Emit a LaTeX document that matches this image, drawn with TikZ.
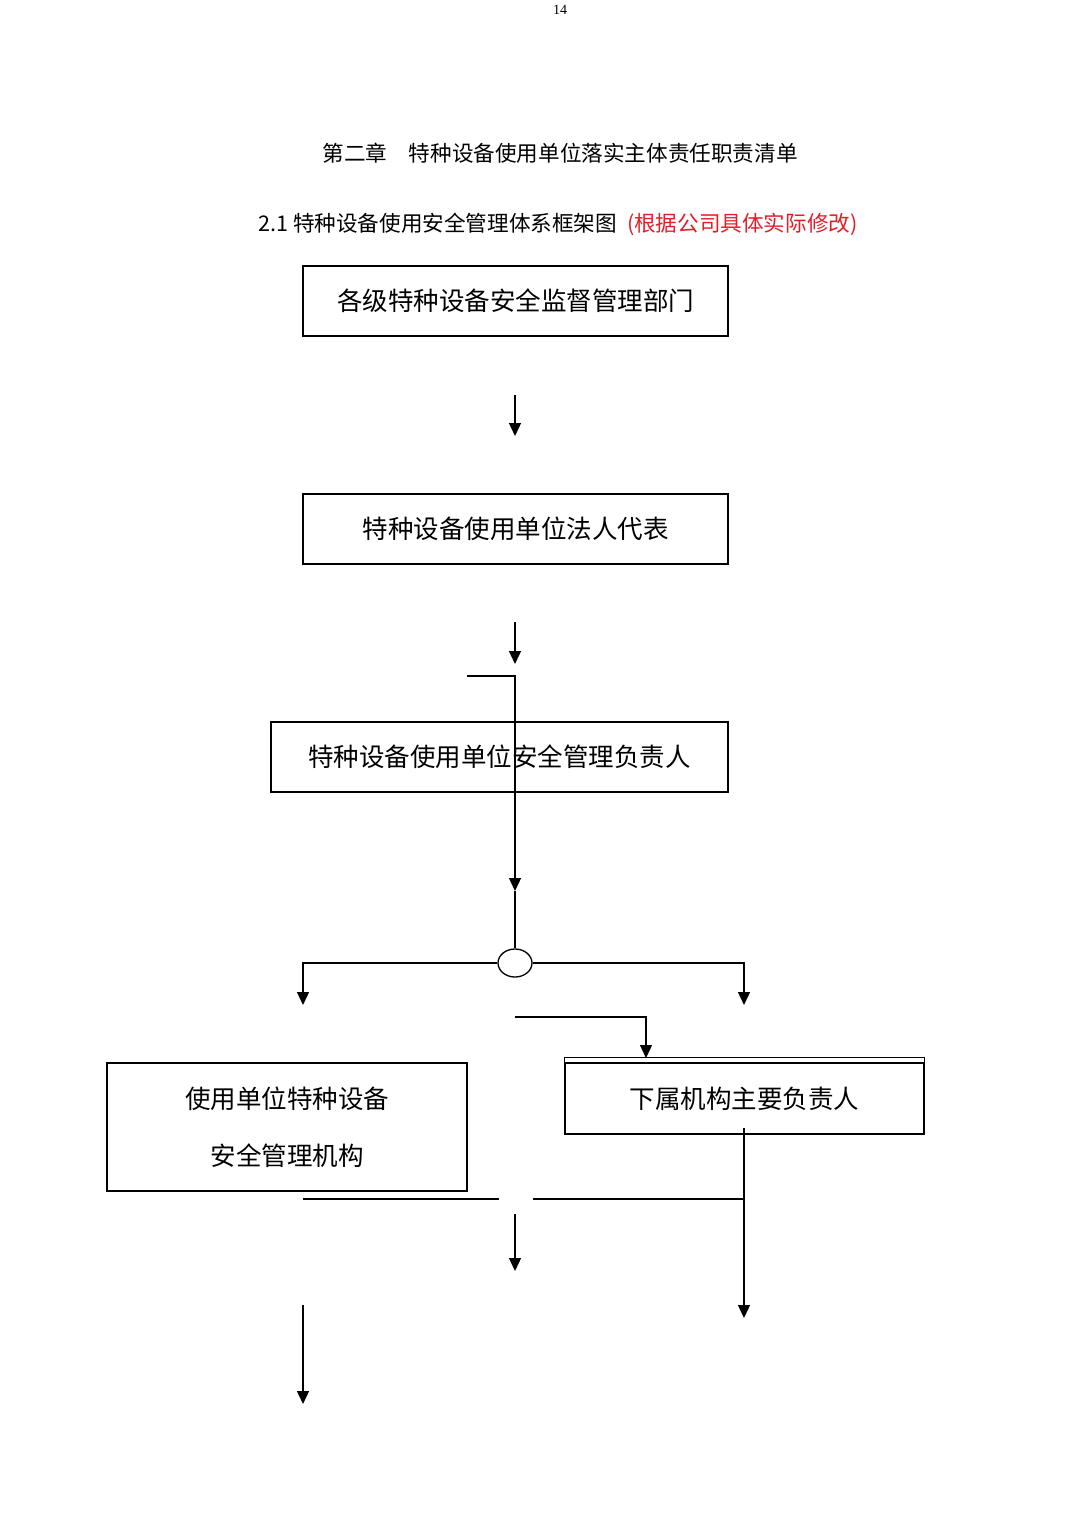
\documentclass[tikz,border=0pt]{standalone}
\usepackage{fontspec}
\setmainfont{Liberation Serif}
\newfontfamily\cjk{Noto Sans CJK SC}
\usetikzlibrary{arrows.meta,shapes.geometric}
\definecolor{noteRed}{RGB}{228,30,40}
\begin{document}
\begin{tikzpicture}[x=1pt,y=-1pt,
  box/.style={draw, line width=1.3pt, inner sep=0pt, font=\cjk\fontsize{25.5}{30}\selectfont},
  arr/.style={-{Triangle[width=12pt,length=13pt]}, line width=1.3pt},
  ln/.style={line width=1.3pt},
  heading/.style={inner sep=0pt, font=\cjk\fontsize{21.6}{25}\selectfont}]
\useasboundingbox (0,0) rectangle (1080,1527);
% page number and headings
\node[inner sep=0pt, font=\fontsize{14}{16}\selectfont] (pg) at (560,10) {14};
\node[heading] (title) at (560,153) {第二章　特种设备使用单位落实主体责任职责清单};
\node[heading, anchor=west] (sub) at (258,224) {2.1 特种设备使用安全管理体系框架图\hspace{10pt}\textcolor{noteRed}{(根据公司具体实际修改)}};
% boxes
\node[box, minimum width=425pt, minimum height=70pt] (A) at (515.5,301) {各级特种设备安全监督管理部门};
\node[box, minimum width=425pt, minimum height=70pt] (B) at (515.5,529) {特种设备使用单位法人代表};
\node[box, minimum width=457pt, minimum height=70pt] (C) at (499.5,757) {特种设备使用单位安全管理负责人};
\node[box, minimum width=360pt, minimum height=128pt, align=center, font=\cjk\fontsize{25.5}{57}\selectfont] (D) at (287,1127) {使用单位特种设备\\安全管理机构};
\node[box, minimum width=359pt, minimum height=71pt] (E) at (744.5,1098.5) {下属机构主要负责人};
\draw[ln] (E.north west) -- ([yshift=5pt]E.north west) -- ([yshift=5pt]E.north east) -- (E.north east);
\node[draw, ellipse, line width=1.3pt, minimum width=34pt, minimum height=28pt, inner sep=0pt] (O) at (515,963) {};
% coordinates
\coordinate (a1s) at (515,395); \coordinate (a1e) at (515,436);
\coordinate (a2s) at (515,622); \coordinate (a2e) at (515,664);
\coordinate (j0) at (467,676); \coordinate (j1) at (515,676); \coordinate (j2) at (515,891);
\coordinate (L1) at (303,963); \coordinate (L2) at (303,1005);
\coordinate (R1) at (744,963); \coordinate (R2) at (744,1005);
\coordinate (k0) at (515,1017); \coordinate (k1) at (646,1017); \coordinate (k2) at (646,1058);
\coordinate (e1) at (744,1128); \coordinate (e2) at (744,1318);
\coordinate (h1) at (303,1199); \coordinate (h2) at (499,1199);
\coordinate (h3) at (533,1199); \coordinate (h4) at (744,1199);
\coordinate (m1) at (515,1214); \coordinate (m2) at (515,1271);
\coordinate (n1) at (303,1305); \coordinate (n2) at (303,1404);
% connectors
\draw[arr] (a1s) -- (a1e);
\draw[arr] (a2s) -- (a2e);
\draw[arr] (j0) -- (j1) -- (j2);
\draw[ln] (j2) -- (O.north);
\draw[arr] (O.west) -- (L1) -- (L2);
\draw[arr] (O.east) -- (R1) -- (R2);
\draw[arr] (k0) -- (k1) -- (k2);
\draw[arr] (e1) -- (e2);
\draw[ln] (h1) -- (h2);
\draw[ln] (h3) -- (h4);
\draw[arr] (m1) -- (m2);
\draw[arr] (n1) -- (n2);
\end{tikzpicture}
\end{document}
